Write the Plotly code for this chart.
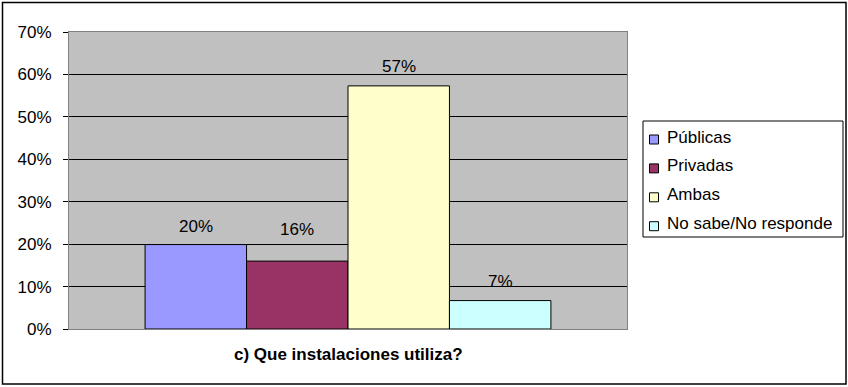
import plotly.graph_objects as go

# Survey answers: "c) Que instalaciones utiliza?"
categories = ["Públicas", "Privadas", "Ambas", "No sabe/No responde"]
shares = [0.199, 0.160, 0.573, 0.067]
colors = ["#9999FF", "#993366", "#FFFFCC", "#CCFFFF"]
title_text = "c) Que instalaciones utiliza?"
y_ticks = [0.0, 0.1, 0.2, 0.3, 0.4, 0.5, 0.6, 0.7]

# value-label lift above each bar, in pixels
label_lift = [18, 32, 19, 19]

W, H = 848, 387
M_L, M_R, M_T, M_B = 69, 221, 32, 58
PW, PH = W - M_L - M_R, H - M_T - M_B
FONT = "Liberation Sans, Arial, sans-serif"


def px_x(x):
    return (x - M_L) / PW


def px_y(y):
    return (H - M_B - y) / PH


fig = go.Figure()
for i, (name, val, col) in enumerate(zip(categories, shares, colors)):
    fig.add_trace(go.Bar(
        x=[i], y=[val], name=name, width=1,
        marker=dict(color=col, line=dict(color="black", width=1)),
        showlegend=False,
    ))
    fig.add_annotation(
        x=i, y=val, xref="x", yref="y", text=f"{val:.0%}",
        showarrow=False, yanchor="middle", yshift=label_lift[i],
        font=dict(family=FONT, size=17, color="black"),
    )

# axis title under the plot area
fig.add_annotation(
    x=0.5, y=px_y(354), xref="paper", yref="paper", text=f"<b>{title_text}</b>",
    showarrow=False, yanchor="middle", xanchor="center",
    font=dict(family=FONT, size=17, color="black"),
)

shapes = []
# outer chart frame
shapes.append(dict(type="rect", xref="paper", yref="paper",
                   x0=px_x(2.5), x1=px_x(846), y0=px_y(384), y1=px_y(2.5),
                   line=dict(color="black", width=1.5), layer="above"))

# legend box with swatches
LEG_X0, LEG_X1, LEG_Y0, LEG_Y1 = 643, 843, 121, 237
shapes.append(dict(type="rect", xref="paper", yref="paper",
                   x0=px_x(LEG_X0), x1=px_x(LEG_X1), y0=px_y(LEG_Y1), y1=px_y(LEG_Y0),
                   line=dict(color="black", width=1), fillcolor="white", layer="above"))
row_y0, row_step = 137, 28.9
for k, (name, col) in enumerate(zip(categories, colors)):
    cy = row_y0 + k * row_step
    shapes.append(dict(type="rect", xref="paper", yref="paper",
                       x0=px_x(649.5), x1=px_x(658.5), y0=px_y(cy + 7), y1=px_y(cy - 2),
                       line=dict(color="black", width=1), fillcolor=col, layer="above"))
    fig.add_annotation(
        x=px_x(665), y=px_y(cy), xref="paper", yref="paper", text=name,
        showarrow=False, xanchor="left", yanchor="middle",
        font=dict(family=FONT, size=17, color="black"),
    )

fig.update_layout(
    width=W, height=H,
    margin=dict(l=M_L, r=M_R, t=M_T, b=M_B),
    paper_bgcolor="white", plot_bgcolor="#C0C0C0",
    barmode="overlay", showlegend=False,
    shapes=shapes,
    font=dict(family=FONT, size=17, color="black"),
    xaxis=dict(range=[-1.25, 4.25], showticklabels=False, ticks="",
               showgrid=False, zeroline=False,
               showline=True, linecolor="#808080", linewidth=1, mirror=True),
    yaxis=dict(range=[0, 0.7], tickvals=y_ticks, tickformat=".0%",
               showgrid=True, gridcolor="black", gridwidth=1, zeroline=False,
               ticks="outside", ticklen=5, tickcolor="black",
               ticklabelstandoff=8,
               showline=True, linecolor="#808080", linewidth=1, mirror=True,
               tickfont=dict(family=FONT, size=17, color="black")),
)

fig.write_html("out.html")
